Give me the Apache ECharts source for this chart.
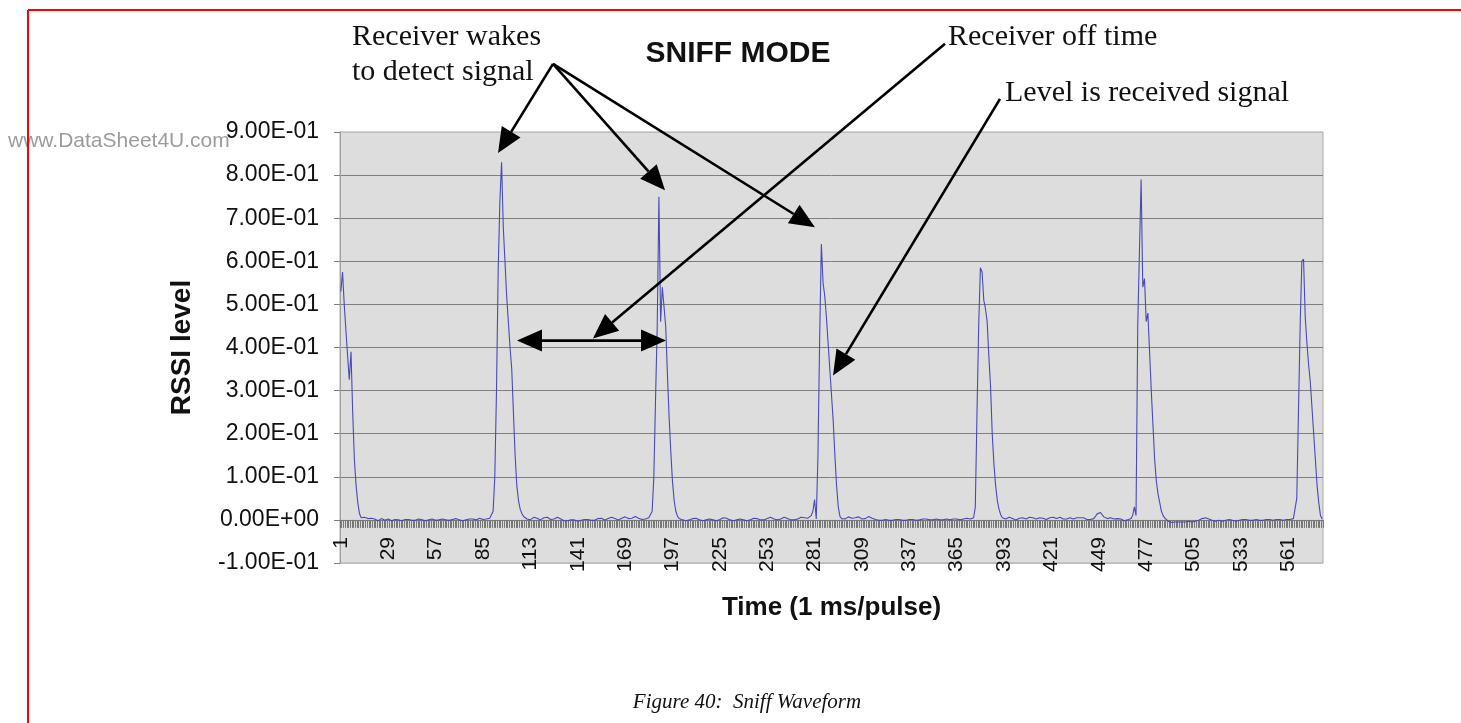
<!DOCTYPE html>
<html>
<head>
<meta charset="utf-8">
<title>Sniff Waveform</title>
<script src="https://cdn.jsdelivr.net/npm/echarts@6/dist/echarts.min.js"></script>
<style>
  html, body { margin: 0; padding: 0; background: #ffffff; }
  #chart { width: 1461px; height: 723px; }
</style>
</head>
<body>
<div id="chart"></div>
<script>
// RSSI level per 1 ms pulse, stored in thousandths (0.001 units)
const rssiMilli = [
  530, 575, 500, 440, 380, 325, 390, 250, 140, 80, 40, 15, 5,
  2, 6, 7, 3, 1, 4, 6,
  2, 0, -2, 1, 3, 1, -1, 0, 2, 1, -2, -1, 1, 2, 0, -1, -2, 0, 1, 2,
  1, 0, -1, -2, -1, 1, 2, 1, 0, -1, -2, -1, 0, 1, 2, 1, -1, -2, 0, 1,
  2, 1, 0, -1, -1, 0, 1, 2, 3, 1, 0, -1, -2, -1, 0, 1, 2, 3, 2, 1,
  0, 2, 4, 3, 1, 0, 2, 3, 4,
  5, 20, 100, 300, 580, 740, 830, 680, 600, 520, 460, 400, 350, 250, 150, 80, 45, 25, 15, 8, 4,
  2, -1, 0, 3, 6, 7, 4, 1, 0, 2, 5, 7, 6, 3, 1, 0, 2, 4, 6, 5,
  2, 0, -2, -3, -2, -1, 0, 1, 0, -2, -3, -2, -1, 0, 1, 2, 1, 0, -1, -2,
  -1, 1, 3, 5, 4, 2, 0, 1, 3, 4, 6, 5, 3, 1, 0, 2, 4, 6, 7, 5,
  3, 2, 4, 6, 8, 6, 4, 2, 1, 0, 2, 3, 5,
  5, 20, 100, 280, 450, 750, 460, 540, 540, 450, 340, 240, 160, 90, 45, 20, 8,
  3, 1, 0, -1, -2, -1, 0, 1, 3, 5, 4, 2, 0, -1, -2, -1, 0, 1, 2, 1,
  0, -1, -2, -1, 1, 3, 5, 6, 4, 2, 0, -1, -2, -1, 0, 1, 2, 1, 0, -1,
  -2, -1, 0, 2, 4, 5, 3, 1, 0, -1, 0, 1, 3, 5, 6, 4, 2, 1, 0, 1,
  2, 4, 6, 5, 3, 1, 0, -1, 0, 1, 2, 4, 6, 7, 5, 3, 4, 8,
  10, 20, 47, 2, 150, 420, 640, 550, 520, 470, 410, 350, 290, 230, 150, 80, 30, 8,
  3, 1, 2, 5, 7, 6, 4, 3, 5, 8, 7, 4, 2, 1, 3, 6, 8, 7, 4, 2,
  1, 0, -1, -2, -1, 0, 1, 0, -1, -2, -1, 0, 1, 2, 1, 0, -1, -2, -1, 0,
  1, 2, 1, 0, -1, -1, 0, 1, 2, 3, 2, 1, 0, -1, 0, 1, 2, 1, 0, -1,
  0, 1, 2, 1, 0, 1, 2, 3, 2, 1, 0, 1, 2, 3, 4, 3, 2, 4,
  5, 30, 250, 450, 585, 575, 510, 490, 460, 380, 310, 200, 130, 80, 45, 25, 12, 5,
  3, 2, 4, 6, 5, 3, 1, 0, 2, 4, 6, 5, 3, 2, 4, 6, 7, 5, 3, 2,
  3, 5, 6, 4, 2, 1, 3, 5, 7, 6, 4, 3, 5, 6, 4, 2, 1, 2, 4, 5,
  3, 2, 4, 5, 6, 5, 6, 5, 3, 1, 0, 1, 2,
  3, 8, 14, 18, 17, 12, 7, 4,
  3, 4, 5, 4, 2, 1, 3, 4, 2, 0, -2, -1, 0, 1,
  3, 10, 30, 10, 450, 620, 790, 540, 560, 460, 480, 390, 300, 220, 140, 90, 60, 40, 20, 10, 4,
  0, -3, -5, -6, -6, -5, -6, -5, -4, -5, -6, -5, -4, -3, -4, -5, -4, -3, -2, -1,
  1, 3, 4, 5, 4, 2, 0, -1, -2, -3, -2, -1, -2, -3, -2, -1, 0, 1, 0, -1,
  -2, -3, -2, -1, 0, 1, 2, 1, 0, -1, -2, -1, 0, 1, 0, -1, -2, -1, 0, 1,
  2, 1, 0, -1, 0, 1, 2, 1, 0, -1, 0, 1, 2, 1, 2, 3,
  3, 50, 250, 450, 600, 605, 470, 410, 360, 320, 260, 200, 140, 80, 40, 10, 2
];

// Pulse numbers 1..N along the time axis
const pulseNumbers = rssiMilli.map((_, i) => String(i + 1));
const rssiLevel = rssiMilli.map(v => v / 1000);

// Value axis range
const rssiMin = -0.1;
const rssiMax = 0.9;
const rssiStep = 0.1;
const pulseLabelEvery = 28;

// Annotation arrows, in [pulse index, RSSI level]
const wakeArrowTail = [125.4, 1.058];
const wakeArrowTips = [[92.9, 0.851], [191.6, 0.765], [280.2, 0.679]];
const offTimeArrow = { from: [357.1, 1.105], to: [149.0, 0.421] };
const offTimeSpan = { from: [104.1, 0.416], to: [192.2, 0.416] };
const levelArrow = { from: [389.6, 0.977], to: [290.9, 0.335] };

// Annotation texts
const noteWake = ['Receiver wakes', 'to detect signal'];
const noteOffTime = 'Receiver off time';
const noteLevel = 'Level is received signal';
const chartTitle = 'SNIFF MODE';
const captionText = 'Figure 40:  Sniff Waveform';
const sourceMark = 'www.DataSheet4U.com';

function sci(v) {
  const parts = Number(v).toExponential(2).split('e');
  const e = parseInt(parts[1], 10);
  return parts[0] + 'E' + (e < 0 ? '-' : '+') + String(Math.abs(e)).padStart(2, '0');
}

const chart = echarts.init(document.getElementById('chart'), null, { renderer: 'canvas' });

const SANS = '"Liberation Sans", Arial, sans-serif';
const SERIF = '"Liberation Serif", "Times New Roman", serif';

const splitColors = ['#bdbdbd'];
for (let k = 1; k < 10; k++) splitColors.push('#7f7f7f');
splitColors.push('#bdbdbd');

chart.setOption({
  animation: false,
  backgroundColor: '#ffffff',
  grid: {
    left: 340, top: 132, right: 138, bottom: 160,
    show: true, backgroundColor: '#dddddd', borderColor: '#a9a9a9', borderWidth: 1
  },
  xAxis: {
    type: 'category',
    data: pulseNumbers,
    boundaryGap: true,
    position: 'bottom',
    name: 'Time (1 ms/pulse)',
    nameLocation: 'middle',
    nameGap: 32,
    nameTextStyle: { fontFamily: SANS, fontWeight: 'bold', fontSize: 26, color: '#111111' },
    // line and ticks sit on the zero level; labels hang just below it
    axisLine: { show: true, onZero: true, lineStyle: { color: '#7a7a7a', width: 1 } },
    axisTick: { show: true, interval: 0, inside: false, length: 8, lineStyle: { color: '#777777', width: 1 } },
    axisLabel: {
      show: true, interval: pulseLabelEvery - 1, rotate: 90, margin: -26,
      fontFamily: SANS, fontSize: 21, color: '#111111'
    },
    splitLine: { show: false }
  },
  yAxis: {
    type: 'value',
    min: rssiMin, max: rssiMax, interval: rssiStep,
    name: 'RSSI level',
    nameLocation: 'middle',
    nameGap: 144,
    nameRotate: 90,
    nameTextStyle: { fontFamily: SANS, fontWeight: 'bold', fontSize: 28, color: '#111111' },
    axisLine: { show: true, onZero: false, lineStyle: { color: '#a0a0a0', width: 1 } },
    axisTick: { show: true, length: 6, lineStyle: { color: '#808080' } },
    axisLabel: { formatter: sci, margin: 21, fontFamily: SANS, fontSize: 23, color: '#111111' },
    splitLine: { show: true, lineStyle: { color: splitColors, width: 1 } }
  },
  series: [{
    type: 'line',
    data: rssiLevel,
    showSymbol: false,
    symbol: 'none',
    lineStyle: { color: '#4848b8', width: 1.1 },
    z: 3
  }]
});

function toPx(pt) {
  const i0 = Math.floor(pt[0]);
  const a = chart.convertToPixel({ gridIndex: 0 }, [i0, pt[1]]);
  const b = chart.convertToPixel({ gridIndex: 0 }, [i0 + 1, pt[1]]);
  return [a[0] + (pt[0] - i0) * (b[0] - a[0]), a[1]];
}

const HEAD_LEN = 25, HEAD_HALF = 11, SHAFT = 2.6;

function head(tip, from) {
  const dx = tip[0] - from[0], dy = tip[1] - from[1];
  const len = Math.hypot(dx, dy);
  const ux = dx / len, uy = dy / len;
  const bx = tip[0] - ux * HEAD_LEN, by = tip[1] - uy * HEAD_LEN;
  return {
    base: [bx, by],
    shape: {
      type: 'polygon', z: 100,
      shape: { points: [tip, [bx - uy * HEAD_HALF, by + ux * HEAD_HALF], [bx + uy * HEAD_HALF, by - ux * HEAD_HALF]] },
      style: { fill: '#000000' }
    }
  };
}

function arrow(fromD, toD, both) {
  const p0 = toPx(fromD), p1 = toPx(toD);
  const out = [];
  const h1 = head(p1, p0);
  let start = p0;
  if (both) {
    const h0 = head(p0, p1);
    start = h0.base;
    out.push(h0.shape);
  }
  out.push({
    type: 'line', z: 99,
    shape: { x1: start[0], y1: start[1], x2: h1.base[0], y2: h1.base[1] },
    style: { stroke: '#000000', lineWidth: SHAFT }
  });
  out.push(h1.shape);
  return out;
}

function text(str, x, y, font, align, color) {
  return {
    type: 'text', x: x, y: y, z: 100,
    style: { text: str, font: font, fill: color || '#111111', align: align || 'left', verticalAlign: 'middle' }
  };
}

const graphics = [];
// page frame
graphics.push({ type: 'line', z: 50, shape: { x1: 28, y1: 10, x2: 1461, y2: 10 }, style: { stroke: '#ff0000', lineWidth: 2 } });
graphics.push({ type: 'line', z: 50, shape: { x1: 28, y1: 10, x2: 28, y2: 723 }, style: { stroke: '#ff0000', lineWidth: 2 } });
// source mark, beneath the axis labels
graphics.push({
  type: 'text', x: 8, y: 141, z: -10,
  style: { text: sourceMark, font: '21px ' + SANS, fill: '#9c9c9c', align: 'left', verticalAlign: 'middle' }
});
// title and notes
graphics.push(text(chartTitle, 738, 54, 'bold 30px ' + SANS, 'center'));
graphics.push(text(noteWake[0], 352, 37, '30px ' + SERIF));
graphics.push(text(noteWake[1], 352, 72, '30px ' + SERIF));
graphics.push(text(noteOffTime, 948, 37, '30px ' + SERIF));
graphics.push(text(noteLevel, 1005, 93, '30px ' + SERIF));
graphics.push(text(captionText, 747, 702, 'italic 21px ' + SERIF, 'center'));
// arrows
wakeArrowTips.forEach(t => graphics.push(...arrow(wakeArrowTail, t, false)));
graphics.push(...arrow(offTimeArrow.from, offTimeArrow.to, false));
graphics.push(...arrow(offTimeSpan.from, offTimeSpan.to, true));
graphics.push(...arrow(levelArrow.from, levelArrow.to, false));

chart.setOption({ graphic: graphics });
</script>
</body>
</html>
